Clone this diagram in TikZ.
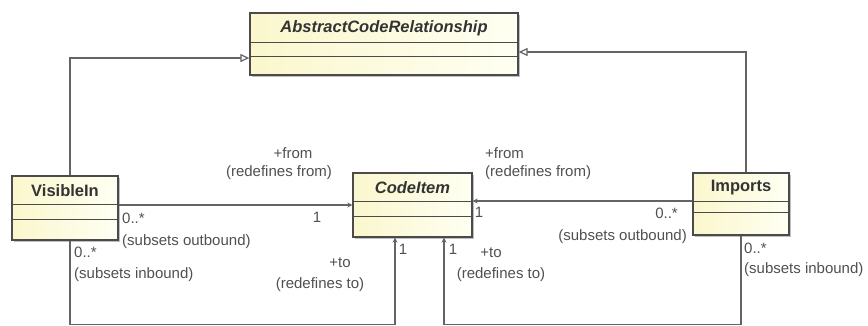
\documentclass[tikz,border=0pt]{standalone}
\usepackage{fontspec}
\setmainfont{Liberation Sans}
\usetikzlibrary{arrows.meta,shadows,calc}

\definecolor{lncol}{RGB}{100,100,100}
\definecolor{txcol}{RGB}{80,80,80}
\definecolor{bordercol}{RGB}{75,75,75}
\definecolor{yl}{RGB}{250,247,205}
\definecolor{yr}{RGB}{255,255,242}

\begin{document}
\begin{tikzpicture}[x=1pt,y=-1pt,
 box/.style={draw=bordercol, line width=1.3pt, left color=yl, right color=yr,
   drop shadow={shadow xshift=1.5pt,shadow yshift=-1.5pt,fill=black,opacity=0.25}, inner sep=0pt},
 sepline/.style={draw=bordercol,line width=1.1pt},
 cname/.style={font=\fontsize{16.5}{18}\selectfont\bfseries, text=black!80, inner sep=0pt},
 aname/.style={cname, font=\fontsize{16.5}{18}\selectfont\bfseries\itshape},
 lab/.style={font=\fontsize{15}{17}\selectfont, text=txcol, inner sep=0pt},
 conn/.style={draw=lncol, line width=1.2pt},
 gen/.style={conn, -{Triangle[open, length=9pt, width=8pt, fill=white]}},
 nav/.style={conn, -{Stealth[length=5pt,width=5pt]}},
]
\useasboundingbox (0,0) rectangle (868,325);

% classes
\node[box, minimum width=268pt, minimum height=62pt] (acr) at (384,44) {};
\node[aname] (acrname) at (384,28.5) {AbstractCodeRelationship};
\draw[sepline] ([yshift=-30pt]acr.north west) -- ([yshift=-30pt]acr.north east);
\draw[sepline] ([yshift=-44pt]acr.north west) -- ([yshift=-44pt]acr.north east);

\node[box, minimum width=106pt, minimum height=64pt] (vis) at (65,208) {};
\node[cname] (visname) at (65,190.5) {VisibleIn};
\draw[sepline] ([yshift=-29pt]vis.north west) -- ([yshift=-29pt]vis.north east);
\draw[sepline] ([yshift=-44pt]vis.north west) -- ([yshift=-44pt]vis.north east);

\node[box, minimum width=119pt, minimum height=64pt] (ci) at (412.5,205) {};
\node[aname] (ciname) at (412.5,187.5) {CodeItem};
\draw[sepline] ([yshift=-29pt]ci.north west) -- ([yshift=-29pt]ci.north east);
\draw[sepline] ([yshift=-44pt]ci.north west) -- ([yshift=-44pt]ci.north east);

\node[box, minimum width=96pt, minimum height=62pt] (imp) at (741,204) {};
\node[cname] (impname) at (741,187.5) {Imports};
\draw[sepline] ([yshift=-29.5pt]imp.north west) -- ([yshift=-29.5pt]imp.north east);
\draw[sepline] ([yshift=-40.5pt]imp.north west) -- ([yshift=-40.5pt]imp.north east);

% generalizations
\draw[gen] ([xshift=5pt]vis.north) |- ([yshift=-14pt]acr.west);
\draw[gen] ([xshift=5pt]imp.north) |- ([yshift=-8pt]acr.east);

% associations
\draw[nav] (vis.east |- 0,205) -- (ci.west |- 0,205);
\draw[nav] (imp.west |- 0,201) -- (ci.east |- 0,201);
\draw[nav] ([xshift=5pt]vis.south) -- ++(0,83.5) -| (ci.south -| 395,0);
\draw[nav] (imp.south) -- ++(0,88.5) -| (ci.south -| 444,0);

% labels
\node[lab] (l1) at (293,153) {+from};
\node[lab] (l2) at (279,173) {(redefines from)};
\node[lab] (l3) at (317,217) {1};
\node[lab, anchor=west] (l4) at (122,218) {0..*};
\node[lab, anchor=west] (l5) at (122,242) {(subsets outbound)};
\node[lab, anchor=west] (l6) at (74,252) {0..*};
\node[lab, anchor=west] (l7) at (74,275) {(subsets inbound)};
\node[lab] (l8) at (340,263) {+to};
\node[lab] (l9) at (320,285) {(redefines to)};
\node[lab] (l10) at (403,249) {1};
\node[lab] (l11) at (453,249) {1};
\node[lab, anchor=west] (l12) at (485,153) {+from};
\node[lab, anchor=west] (l13) at (485,173) {(redefines from)};
\node[lab] (l14) at (479,212) {1};
\node[lab] (l15) at (491,253) {+to};
\node[lab] (l16) at (501,275) {(redefines to)};
\node[lab, anchor=east] (l17) at (678,213) {0..*};
\node[lab, anchor=east] (l18) at (687,237) {(subsets outbound)};
\node[lab, anchor=west] (l19) at (744,248) {0..*};
\node[lab, anchor=west] (l20) at (744,270) {(subsets inbound)};
\end{tikzpicture}
\end{document}
